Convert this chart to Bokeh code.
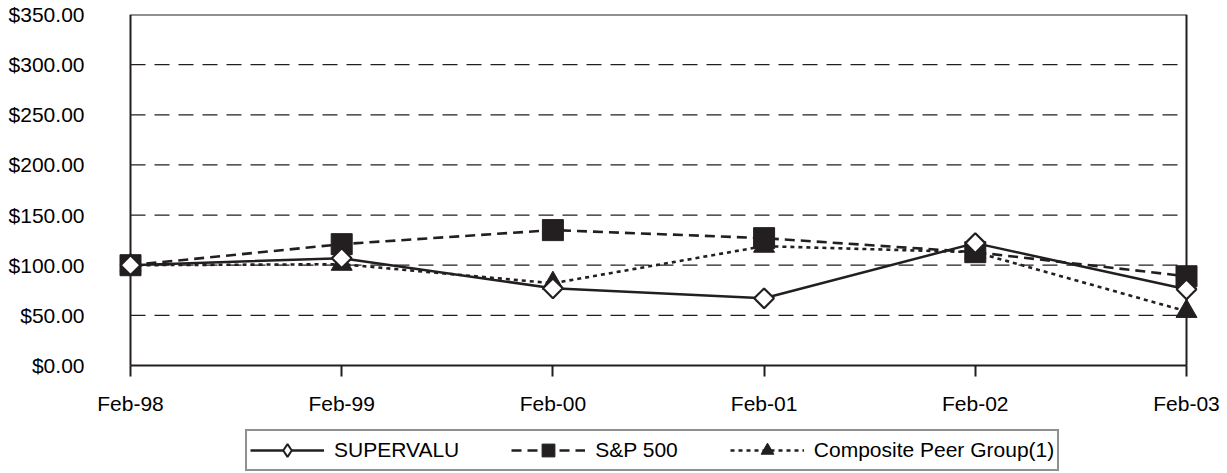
import math
from bokeh.plotting import figure
from bokeh.models import (ColumnDataSource, Range1d, FixedTicker, NumeralTickFormatter,
                          Legend, LegendItem)
from bokeh.embed import file_html
from bokeh.resources import INLINE

# ---- data ----
categories = ["Feb-98", "Feb-99", "Feb-00", "Feb-01", "Feb-02", "Feb-03"]
supervalu = [100, 107, 77, 67, 122, 76]
sp500 = [100, 121, 135, 127, 113, 89]
peer_group = [100, 101, 82, 119, 113, 54]
series_names = ["SUPERVALU", "S&P 500", "Composite Peer Group(1)"]
y_ticks = [0, 50, 100, 150, 200, 250, 300, 350]

INK = "#231f20"
FONT = "Liberation Sans"

x_idx = list(range(len(categories)))
x_lo, x_hi = x_idx[0], x_idx[-1]
y_lo, y_hi = y_ticks[0], y_ticks[-1]

W, H = 1222, 472
LEFT, RIGHT, TOP = 95, 0, 14
BOX_LEFT, BOX_W, BOX_H = 130, 1056, 351   # visible plot box in pixels
FRAME_W = W - LEFT - RIGHT
FRAME_H = H - TOP          # frame reaches the bottom so labels/legend are not clipped

upp = (x_hi - x_lo) / BOX_W                     # x units per pixel
x_start = x_lo - (BOX_LEFT - LEFT) * upp
x_end = x_start + FRAME_W * upp
y_bottom = y_hi - FRAME_H * (y_hi - y_lo) / BOX_H

src = ColumnDataSource(dict(x=x_idx, sv=supervalu, sp=sp500, pg=peer_group))

p = figure(width=W, height=H, output_backend="svg", toolbar_location=None,
           x_range=Range1d(x_start, x_end), y_range=Range1d(y_bottom, y_hi),
           min_border_left=LEFT, min_border_right=RIGHT, min_border_top=TOP,
           min_border_bottom=0)
p.background_fill_color = "white"
p.border_fill_color = "white"
p.outline_line_color = None

# axes
p.xaxis.fixed_location = y_lo
p.xaxis.ticker = FixedTicker(ticks=x_idx)
p.xaxis.major_label_overrides = {i: c for i, c in enumerate(categories)}
p.yaxis.ticker = FixedTicker(ticks=y_ticks)
p.yaxis.formatter = NumeralTickFormatter(format="$0.00")
for ax in (p.xaxis[0], p.yaxis[0]):
    ax.axis_line_color = None
    ax.major_tick_line_color = INK
    ax.major_tick_line_width = 2
    ax.minor_tick_line_color = None
    ax.major_label_text_font = FONT
    ax.major_label_text_font_size = "21px"
    ax.major_label_text_color = "black"
p.xaxis.major_tick_in = 0
p.xaxis.major_tick_out = 11
p.xaxis.major_label_standoff = 15
p.yaxis.major_tick_in = 0
p.yaxis.major_tick_out = 0
p.yaxis.major_label_standoff = 11

p.xgrid.grid_line_color = None
p.ygrid.grid_line_color = None

# dashed gridlines inside the box
inner = y_ticks[1:-1]
p.segment(x0=[x_lo] * len(inner), x1=[x_hi] * len(inner), y0=inner, y1=inner,
          line_color=INK, line_width=1.2, line_dash="15 9")
# solid box
p.segment(x0=[x_lo, x_hi, x_lo, x_lo], x1=[x_lo, x_hi, x_hi, x_hi],
          y0=[y_lo, y_lo, y_hi, y_lo], y1=[y_hi, y_hi, y_hi, y_lo],
          line_color=INK, line_width=2)

# series
l3 = p.line("x", "pg", source=src, line_color=INK, line_width=2.6, line_dash="4 4")
l2 = p.line("x", "sp", source=src, line_color=INK, line_width=2.6, line_dash="10 6")
l1 = p.line("x", "sv", source=src, line_color=INK, line_width=2.5)
m3 = p.scatter("x", "pg", source=src, marker="triangle", size=21,
               fill_color=INK, line_color=INK)
m2 = p.scatter("x", "sp", source=src, marker="square", size=21,
               fill_color=INK, line_color=INK)
m1 = p.scatter("x", "sv", source=src, marker="square", size=14, angle=math.pi / 4,
               fill_color="white", line_color=INK, line_width=2.2)
# legend-only diamond (legend glyphs ignore marker angle)
m1_leg = p.scatter("x", "sv", source=src, marker="diamond", size=14,
                   fill_color="white", line_color=INK, line_width=2, visible=False)

legend = Legend(items=[
    LegendItem(label=series_names[0], renderers=[l1, m1_leg]),
    LegendItem(label=series_names[1], renderers=[l2, m2]),
    LegendItem(label=series_names[2], renderers=[l3, m3]),
], orientation="horizontal", location=(245 - LEFT, 1))
legend.border_line_color = INK
legend.border_line_width = 2
legend.background_fill_alpha = 1
legend.inactive_fill_alpha = 0
legend.label_text_font = FONT
legend.label_text_font_size = "21px"
legend.label_text_color = "black"
legend.glyph_width = 74
legend.glyph_height = 32
legend.label_standoff = 10
legend.spacing = 52
legend.padding = 3
legend.margin = 0
p.add_layout(legend, "center")

open("out.html", "w").write(file_html(p, INLINE))
